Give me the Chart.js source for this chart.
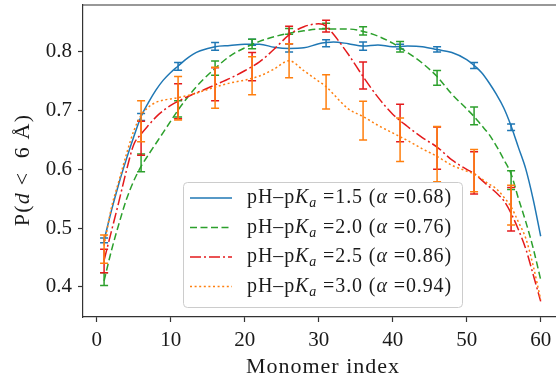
<!DOCTYPE html>
<html>
<head>
<meta charset="utf-8">
<script src="https://cdn.jsdelivr.net/npm/chart.js@4.4.0/dist/chart.umd.min.js"></script>
<style>
  html, body { margin: 0; padding: 0; background: #fff; overflow: hidden; }
  #wrap { width: 556px; height: 379px; }
</style>
</head>
<body>
<div id="wrap"><canvas id="chart" width="556" height="379"></canvas></div>
<script>
// ---------------------------------------------
// data
// ---------------------------------------------

// smooth curves (monomer index -> P(d < 6 Å))
const lineX = [1, 2, 3, 4, 5, 6, 7, 8, 9, 10, 11, 12, 13, 14, 16, 18, 20, 22, 24, 26, 28, 30, 31, 32,
               34, 36, 38, 40, 42, 44, 46, 48, 50, 51, 52, 53, 54, 55, 56, 57, 58, 59, 60];

const curve15 = [0.479, 0.530, 0.576, 0.617, 0.655, 0.690, 0.714, 0.735, 0.752, 0.765, 0.776, 0.787, 0.796, 0.802,
                 0.809, 0.811, 0.813, 0.813, 0.808, 0.806, 0.807, 0.814, 0.816, 0.817, 0.814, 0.810, 0.812, 0.809,
                 0.810, 0.809, 0.804, 0.799, 0.787, 0.777, 0.765, 0.748, 0.728, 0.705, 0.674, 0.637, 0.600, 0.548, 0.486];

const curve20 = [0.410, 0.462, 0.507, 0.548, 0.580, 0.605, 0.625, 0.644, 0.663, 0.682, 0.701, 0.718, 0.734, 0.748,
                 0.772, 0.793, 0.807, 0.818, 0.826, 0.832, 0.836, 0.839, 0.839, 0.839, 0.839, 0.835, 0.827, 0.815,
                 0.799, 0.781, 0.758, 0.728, 0.703, 0.690, 0.675, 0.660, 0.640, 0.617, 0.592, 0.550, 0.510, 0.465, 0.412];

const curve25 = [0.445, 0.495, 0.545, 0.597, 0.642, 0.660, 0.675, 0.689, 0.700, 0.709, 0.716, 0.722, 0.728, 0.733,
                 0.744, 0.755, 0.768, 0.783, 0.805, 0.829, 0.843, 0.848, 0.844, 0.830, 0.796, 0.758, 0.723, 0.694,
                 0.673, 0.654, 0.638, 0.616, 0.600, 0.593, 0.582, 0.571, 0.560, 0.547, 0.525, 0.497, 0.464, 0.420, 0.375];

const curve30 = [0.470, 0.535, 0.580, 0.625, 0.665, 0.692, 0.706, 0.714, 0.718, 0.720, 0.722, 0.725, 0.728, 0.732,
                 0.740, 0.747, 0.752, 0.759, 0.771, 0.785, 0.768, 0.750, 0.741, 0.728, 0.703, 0.690, 0.675, 0.662,
                 0.649, 0.635, 0.622, 0.607, 0.597, 0.592, 0.584, 0.575, 0.567, 0.553, 0.536, 0.510, 0.482, 0.435, 0.378];

// error bars (every 5th monomer)
const barX = [1, 6, 11, 16, 21, 26, 31, 36, 41, 46, 51, 56];

const bar15Mean = [0.479, 0.689, 0.7755, 0.8095, 0.8165, 0.807, 0.815, 0.810, 0.809, 0.8045, 0.777, 0.6716];
const bar15Err  = [0.004, 0.006, 0.0065, 0.0065, 0.005, 0.007, 0.006, 0.007, 0.004, 0.0045, 0.005, 0.0056];

const bar20Mean = [0.413, 0.611, 0.703, 0.7725, 0.8135, 0.835, 0.8445, 0.836, 0.809, 0.7557, 0.691, 0.5815];
const bar20Err  = [0.011, 0.015, 0.014, 0.012, 0.008, 0.005, 0.0045, 0.007, 0.009, 0.0125, 0.015, 0.016];

const bar25Mean = [0.444, 0.653, 0.716, 0.745, 0.775, 0.829, 0.844, 0.760, 0.679, 0.636, 0.594, 0.532];
const bar25Err  = [0.020, 0.029, 0.030, 0.028, 0.024, 0.015, 0.010, 0.023, 0.032, 0.036, 0.036, 0.037];

const bar30Mean = [0.464, 0.682, 0.721, 0.739, 0.7595, 0.785, 0.732, 0.683, 0.6505, 0.626, 0.598, 0.539];
const bar30Err  = [0.024, 0.035, 0.037, 0.035, 0.0325, 0.029, 0.029, 0.033, 0.037, 0.047, 0.036, 0.034];

// legend numbers
const phGap  = ["1.5", "2.0", "2.5", "3.0"];
const alphas = ["0.68", "0.76", "0.86", "0.94"];

// ticks
const xTicks = [0, 10, 20, 30, 40, 50, 60];
const yTicks = [0.4, 0.5, 0.6, 0.7, 0.8];

// ---------------------------------------------

const FONT   = '"Liberation Serif", "DejaVu Serif", serif';
const TEXT   = "#1a1a1a";
const SPINE  = "#333";

const colors = ["#1f77b4", "#2ca02c", "#e41a1c", "#ff7f0e"];
const dashes = [[], [7, 3.5], [11, 3, 2, 3], [2, 2.6]];
const curves = [curve15, curve20, curve25, curve30];
const bars   = [
  { mean: bar15Mean, err: bar15Err },
  { mean: bar20Mean, err: bar20Err },
  { mean: bar25Mean, err: bar25Err },
  { mean: bar30Mean, err: bar30Err }
];

// draws text pieces, some italic / subscript, left to right
function drawRich(ctx, parts, x, y, size) {
  let cx = x;
  for (const p of parts) {
    const fs = p.sub ? size * 0.7 : size;
    ctx.font = `${p.it ? "italic " : ""}${fs}px ${FONT}`;
    ctx.fillText(p.t, cx, y + (p.sub ? size * 0.22 : 0));
    cx += ctx.measureText(p.t).width;
  }
  return cx - x;
}

function richWidth(ctx, parts, size) {
  let w = 0;
  for (const p of parts) {
    const fs = p.sub ? size * 0.7 : size;
    ctx.font = `${p.it ? "italic " : ""}${fs}px ${FONT}`;
    w += ctx.measureText(p.t).width;
  }
  return w;
}

const extras = {
  id: "extras",

  // error bars right after each curve, like matplotlib does
  afterDatasetDraw(chart, args) {
    const b = bars[args.index];
    if (!b) return;
    const ctx = chart.ctx;
    const xs = chart.scales.x;
    const ys = chart.scales.y;
    ctx.save();
    ctx.strokeStyle = colors[args.index];
    ctx.lineWidth = 1.5;
    ctx.setLineDash([]);
    barX.forEach((m, k) => {
      const px  = xs.getPixelForValue(m);
      const top = ys.getPixelForValue(b.mean[k] + b.err[k]);
      const bot = ys.getPixelForValue(b.mean[k] - b.err[k]);
      ctx.beginPath();
      ctx.moveTo(px, top);     ctx.lineTo(px, bot);
      ctx.moveTo(px - 4, top); ctx.lineTo(px + 4, top);
      ctx.moveTo(px - 4, bot); ctx.lineTo(px + 4, bot);
      ctx.stroke();
    });
    ctx.restore();
  },

  afterDraw(chart) {
    const ctx  = chart.ctx;
    const area = chart.chartArea;
    ctx.save();

    // top spine
    ctx.strokeStyle = SPINE;
    ctx.lineWidth = 1.2;
    ctx.beginPath();
    ctx.moveTo(area.left, area.top);
    ctx.lineTo(area.right, area.top);
    ctx.stroke();

    ctx.fillStyle = TEXT;
    ctx.textBaseline = "alphabetic";

    // x title, centred on the full axes (its right part is cut off)
    ctx.font = `22px ${FONT}`;
    ctx.letterSpacing = "1px";
    ctx.textAlign = "center";
    ctx.fillText("Monomer index", 323, 373);

    // y title
    const yParts = [{ t: "P(" }, { t: "d", it: true }, { t: " <  6 Å)" }];
    ctx.letterSpacing = "1.2px";
    ctx.textAlign = "left";
    ctx.translate(29, 170);
    ctx.rotate(-Math.PI / 2);
    const yw = richWidth(ctx, yParts, 22);
    drawRich(ctx, yParts, -yw / 2, 0, 22);
    ctx.setTransform(1, 0, 0, 1, 0, 0);

    // legend box
    ctx.fillStyle = "rgba(255,255,255,0.8)";
    ctx.strokeStyle = "#cccccc";
    ctx.lineWidth = 1;
    ctx.beginPath();
    ctx.roundRect(183.5, 182.5, 279, 125, 4);
    ctx.fill();
    ctx.stroke();

    const rowY = [198, 227.5, 257, 286.5];
    ctx.letterSpacing = "0.9px";
    rowY.forEach((ry, i) => {
      ctx.strokeStyle = colors[i];
      ctx.lineWidth = 1.5;
      ctx.setLineDash(dashes[i]);
      ctx.beginPath();
      ctx.moveTo(190, ry);
      ctx.lineTo(232, ry);
      ctx.stroke();
      ctx.setLineDash([]);

      ctx.fillStyle = TEXT;
      drawRich(ctx, [
        { t: "pH–p" }, { t: "K", it: true }, { t: "a", it: true, sub: true },
        { t: " =" + phGap[i] + " (" }, { t: "α", it: true }, { t: " =" + alphas[i] + ")" }
      ], 247, ry + 5, 20);
    });

    ctx.restore();
  }
};

const datasets = curves.map((c, i) => ({
  label: "pH–pKa =" + phGap[i] + " (α =" + alphas[i] + ")",
  data: lineX.map((x, k) => ({ x, y: c[k] })),
  borderColor: colors[i],
  borderWidth: 1.5,
  borderDash: dashes[i],
  pointRadius: 0,
  fill: false,
  cubicInterpolationMode: "monotone",
  order: 3 - i
}));

new Chart(document.getElementById("chart"), {
  type: "line",
  data: { datasets },
  plugins: [extras],
  options: {
    responsive: false,
    animation: false,
    events: [],
    layout: { padding: { top: 5, right: 0, bottom: 0, left: 0 } },
    plugins: { legend: { display: false }, tooltip: { enabled: false } },
    scales: {
      x: {
        type: "linear",
        min: -1.85,
        max: 62.07,
        afterBuildTicks: s => { s.ticks = xTicks.map(v => ({ value: v })); },
        afterFit: s => { s.height = 62; s.paddingLeft = 0; s.paddingRight = 0; },
        grid: { drawOnChartArea: false, drawTicks: true, tickLength: 5, tickColor: SPINE, tickWidth: 1.2 },
        border: { color: SPINE, width: 1.2 },
        ticks: {
          color: TEXT, padding: 6, maxRotation: 0, autoSkip: false,
          font: { family: FONT, size: 21 },
          callback: v => String(v)
        }
      },
      y: {
        type: "linear",
        min: 0.3484,
        max: 0.880,
        afterBuildTicks: s => { s.ticks = yTicks.map(v => ({ value: v })); },
        afterFit: s => { s.width = 83; s.paddingTop = 0; s.paddingBottom = 0; },
        grid: { drawOnChartArea: false, drawTicks: true, tickLength: 5, tickColor: SPINE, tickWidth: 1.2 },
        border: { color: SPINE, width: 1.2 },
        ticks: {
          color: TEXT, padding: 6, autoSkip: false,
          font: { family: FONT, size: 21 },
          callback: v => v.toFixed(1)
        }
      }
    }
  }
});
</script>
</body>
</html>
